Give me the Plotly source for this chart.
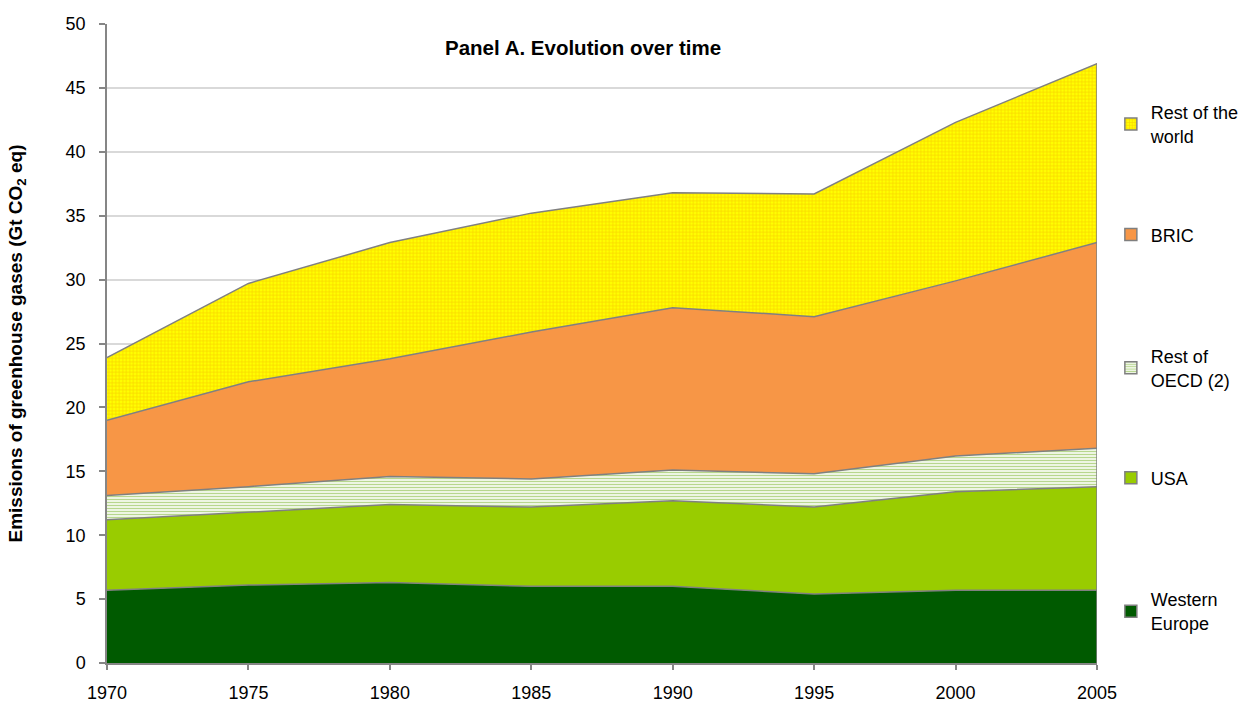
import plotly.graph_objects as go

years = [1970, 1975, 1980, 1985, 1990, 1995, 2000, 2005]
western_europe = [5.7, 6.1, 6.3, 6.0, 6.0, 5.4, 5.7, 5.7]
usa = [5.5, 5.7, 6.1, 6.2, 6.7, 6.8, 7.7, 8.1]
rest_oecd = [1.9, 2.0, 2.2, 2.2, 2.4, 2.6, 2.8, 3.0]
bric = [5.9, 8.2, 9.2, 11.5, 12.7, 12.3, 13.7, 16.1]
rest_world = [4.9, 7.7, 9.1, 9.3, 9.0, 9.6, 12.4, 14.0]

FONT = "Liberation Sans, Arial, sans-serif"
LINE = "#808080"

oecd_pattern = dict(shape="-", bgcolor="#FFFFFF", fgcolor="#6FAE1E", size=3, solidity=0.5)
row_pattern = dict(shape="+", bgcolor="#FFFF00", fgcolor="#F2A400", size=3.5, solidity=0.35)

series = [
    ("Western<br>Europe", western_europe, dict(fillcolor="#005A00"),
     dict(color="#005A00"), "legend5", 0.081),
    ("USA", usa, dict(fillcolor="#99CC00"), dict(color="#99CC00"), "legend4", 0.2895),
    ("Rest of<br>OECD (2)", rest_oecd, dict(fillpattern=oecd_pattern),
     dict(color="#FFFFFF", pattern=dict(shape="-", bgcolor="#FFFFFF", fgcolor="#6FAE1E", size=3, solidity=0.5)),
     "legend3", 0.4617),
    ("BRIC", bric, dict(fillcolor="#F79646"), dict(color="#F79646"), "legend2", 0.670),
    ("Rest of the<br>world", rest_world, dict(fillpattern=row_pattern),
     dict(color="#FFFF00", pattern=dict(shape="+", bgcolor="#FFFF00", fgcolor="#F2A400", size=3.5, solidity=0.35)),
     "legend", 0.8435),
]

fig = go.Figure()
for name, vals, fillkw, markerkw, leg, _ in series:
    fig.add_trace(go.Scatter(
        x=years, y=vals, name=name, mode="lines", stackgroup="one",
        line=dict(color=LINE, width=1.5), showlegend=False, **fillkw))

total = [sum(v) for v in zip(*[s[1] for s in series])]
fig.add_trace(go.Scatter(x=[years[-1], years[-1]], y=[0, total[-1]], mode="lines",
                         line=dict(color=LINE, width=1.5), showlegend=False, hoverinfo="skip"))

# legend swatches (square, like the original)
for name, vals, fillkw, markerkw, leg, _ in series:
    fig.add_trace(go.Bar(x=[None], y=[None], name=name, legend=leg,
                         marker=dict(line=dict(color="#7F7F7F", width=1.5), **markerkw)))

layout_legends = {}
for name, vals, fillkw, markerkw, leg, ypos in series:
    layout_legends[leg] = dict(x=1.014, y=ypos, xanchor="left", yanchor="middle",
                               bgcolor="rgba(0,0,0,0)",
                               font=dict(family=FONT, size=18, color="#000000"))

fig.update_layout(
    width=1247, height=702,
    margin=dict(l=107, r=150, t=24, b=39, autoexpand=False),
    paper_bgcolor="white", plot_bgcolor="white",
    font=dict(family=FONT, color="#000000"),
    showlegend=True,
    **layout_legends,
    xaxis=dict(range=[1970, 2005], tickvals=years, ticktext=[str(y) for y in years],
               showgrid=False, showline=True, linecolor="#868686", linewidth=1.5,
               ticks="outside", ticklen=5, tickcolor="#868686", tickwidth=1.5,
               ticklabelstandoff=8, automargin=False,
               tickfont=dict(size=18), zeroline=False),
    yaxis=dict(range=[0, 50], dtick=5, showgrid=True, gridcolor="#D9D9D9", gridwidth=1.5,
               showline=True, linecolor="#868686", linewidth=1.5,
               ticks="outside", ticklen=6, tickcolor="#868686", tickwidth=1.5,
               ticklabelstandoff=10, automargin=False,
               tickfont=dict(size=18), zeroline=False,
               title=dict(text="<b>Emissions of greenhouse gases (Gt CO<sub>2</sub> eq)</b>",
                          font=dict(size=19), standoff=38)),
    annotations=[dict(text="<b>Panel A. Evolution over time</b>", x=0.481, y=0.964,
                      xanchor="center", yanchor="middle",
                      xref="paper", yref="paper", showarrow=False,
                      font=dict(size=20.5, color="#000000"))],
)

fig.write_html("out.html", config={"displayModeBar": False},
               post_script="document.body.style.margin='0';")
